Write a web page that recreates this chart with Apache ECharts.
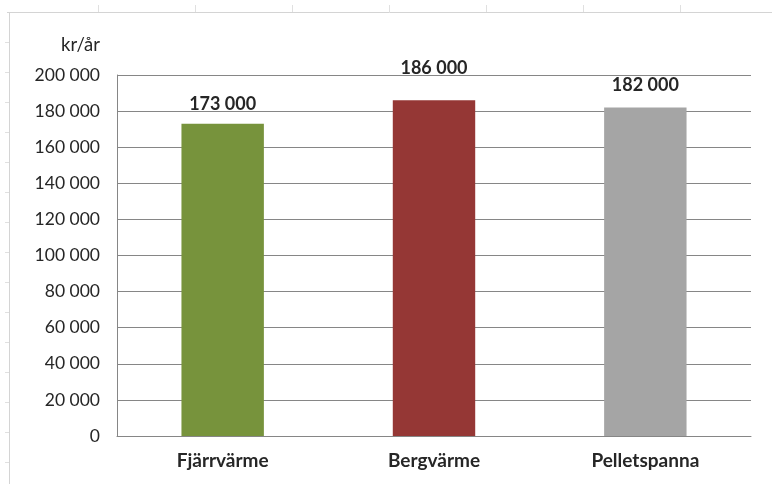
<!DOCTYPE html>
<html>
<head>
<meta charset="utf-8">
<script src="https://cdn.jsdelivr.net/npm/echarts@6/dist/echarts.min.js"></script>
<style>
  html, body { margin: 0; padding: 0; background: #fff; }
  #chart { width: 772px; height: 484px; }
</style>
</head>
<body>
<div id="chart"></div>
<script>
// Annual heating cost per system (kr/år)
const categories = ['Fjärrvärme', 'Bergvärme', 'Pelletspanna'];
const costs = [173000, 186000, 182000];
const barColors = ['#77933C', '#953735', '#A5A5A5'];
const unitLabel = 'kr/år';

// Gap between each bar top and its value label (the middle one sits above the top gridline)
const labelGaps = [11, 23, 13];

// Thousands separated by a space, Swedish style
function fmt(v) {
  return String(v).replace(/\B(?=(\d{3})+(?!\d))/g, ' ');
}

const font = 'Lato, "Open Sans", sans-serif';
const textColor = '#262626';

// Sheet frame around the chart: top and left edges with small tick marks
const frame = [
  { type: 'line', shape: { x1: 7, y1: 12.5, x2: 772, y2: 12.5 }, style: { stroke: '#d4d4d4', lineWidth: 1 } },
  { type: 'line', shape: { x1: 9.5, y1: 12, x2: 9.5, y2: 484 }, style: { stroke: '#d4d4d4', lineWidth: 1 } }
];
for (let x = 98; x < 772; x += 97) {
  frame.push({ type: 'line', shape: { x1: Math.round(x) + 0.5, y1: 5, x2: Math.round(x) + 0.5, y2: 12 }, style: { stroke: '#e0e0e0', lineWidth: 1 } });
}
for (let y = 42; y < 484; y += 30) {
  frame.push({ type: 'line', shape: { x1: 5, y1: Math.round(y) + 0.5, x2: 9, y2: Math.round(y) + 0.5 }, style: { stroke: '#e0e0e0', lineWidth: 1 } });
}

const chart = echarts.init(document.getElementById('chart'), null, { renderer: 'canvas' });
chart.setOption({
  animation: false,
  backgroundColor: '#ffffff',
  graphic: frame,
  grid: { left: 117, right: 21, top: 75, bottom: 48, containLabel: false },
  xAxis: {
    type: 'category',
    data: categories,
    axisLine: { show: true, lineStyle: { color: '#868686', width: 1 } },
    axisTick: { show: false },
    axisLabel: {
      margin: 15,
      color: textColor,
      fontFamily: font,
      fontSize: 19,
      fontWeight: 'bold'
    }
  },
  yAxis: {
    type: 'value',
    min: 0,
    max: 200000,
    interval: 20000,
    name: unitLabel,
    nameLocation: 'end',
    nameGap: 20,
    nameTextStyle: {
      color: textColor,
      fontFamily: font,
      fontSize: 18.5,
      align: 'right',
      padding: [0, 17, 0, 0]
    },
    axisLine: { show: true, lineStyle: { color: '#868686', width: 1 } },
    axisTick: { show: false },
    splitLine: { show: true, lineStyle: { color: '#868686', width: 1 } },
    axisLabel: {
      margin: 17,
      color: textColor,
      fontFamily: font,
      fontSize: 17.5,
      formatter: fmt
    }
  },
  series: [{
    type: 'bar',
    barWidth: '39%',
    data: costs.map((v, i) => ({
      value: v,
      itemStyle: { color: barColors[i] },
      label: { distance: labelGaps[i] }
    })),
    label: {
      show: true,
      position: 'top',
      color: textColor,
      fontFamily: font,
      fontSize: 18,
      fontWeight: 'bold',
      formatter: p => fmt(p.value)
    }
  }]
});
</script>
</body>
</html>
